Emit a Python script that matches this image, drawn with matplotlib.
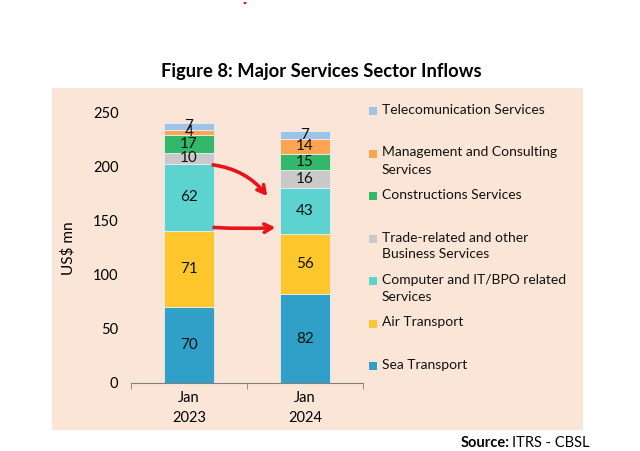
import matplotlib
matplotlib.use('Agg')
import matplotlib.pyplot as plt
import numpy as np
from matplotlib.patches import Rectangle, Circle

plt.rcParams['font.family'] = ['Lato', 'DejaVu Sans']

# Data (US$ mn), bottom to top
periods = ['Jan\n2023', 'Jan\n2024']
sectors = ['Sea Transport', 'Air Transport', 'Computer and IT/BPO related\nServices',
           'Trade-related and other\nBusiness Services', 'Constructions Services',
           'Management and Consulting\nServices', 'Telecomunication Services']
values_2023 = [70, 71, 62, 10, 17, 4, 7]
values_2024 = [82, 56, 43, 16, 15, 14, 7]
colors = ['#31A0C8', '#FFC72C', '#5CD3CE', '#C9C9C9', '#33B86A', '#FFA451', '#9DC3E6']
y_ticks = [0, 50, 100, 150, 200, 250]

W, H = 640, 451
fig = plt.figure(figsize=(W / 100, H / 100), dpi=100)
fig.patch.set_facecolor('white')

# peach chart area (its own axes, behind everything)
bg = fig.add_axes([52 / W, 1 - 430 / H, 531 / W, 342 / H], zorder=0)
bg.set_facecolor('#FBE5D6')
bg.set_xticks([])
bg.set_yticks([])
for s in bg.spines.values():
    s.set_visible(False)

ax = fig.add_axes([131 / W, 1 - 383 / H, 232 / W, 270 / H], zorder=2)
ax.set_facecolor('none')

data = np.array([values_2023, values_2024])
x = np.arange(len(periods))
bottoms = np.zeros(len(periods))
for i, name in enumerate(sectors):
    vals = data[:, i]
    ax.bar(x, vals, 0.43, bottom=bottoms, color=colors[i], edgecolor='#E8EEF4',
           linewidth=0.6, zorder=2)
    for xi, v, b in zip(x, vals, bottoms):
        ax.text(xi, b + v / 2, str(v), ha='center', va='center', fontsize=11,
                color='#111111', zorder=3)
    bottoms += vals

ax.set_xlim(-0.5, 1.5)
ax.set_ylim(0, 250)
ax.set_yticks(y_ticks)
ax.tick_params(axis='y', length=0, labelsize=10.5, pad=9)
ax.set_xticks(x)
ax.set_xticklabels(periods, fontsize=10.5, linespacing=1.5)
ax.tick_params(axis='x', length=0, pad=6)
ax.set_xticks([-0.5, 0.5, 1.5], minor=True)
ax.tick_params(axis='x', which='minor', length=4, direction='out', color='#7F7F7F')
for s in ['top', 'right', 'left']:
    ax.spines[s].set_visible(False)
ax.spines['bottom'].set_color('#7F7F7F')
ax.set_ylabel('US$ mn', fontsize=11)
ax.yaxis.set_label_coords(-0.24, 0.5)

# hand-drawn red arrows from 2023 to 2024
cum23 = np.cumsum(values_2023)
cum24 = np.cumsum(values_2024)
arrow_style = '->,head_length=0.55,head_width=0.3'
ax.annotate('', xy=(0.675, cum24[2] - 8), xytext=(0.207, cum23[2] - 1),
            arrowprops=dict(arrowstyle=arrow_style, color='#E8141B', lw=2.6,
                            shrinkA=0, shrinkB=0,
                            connectionstyle='arc3,rad=-0.2'), zorder=4)
ax.annotate('', xy=(0.745, cum23[1] + 3), xytext=(0.215, cum23[1] + 3),
            arrowprops=dict(arrowstyle=arrow_style, color='#E8141B', lw=2.6,
                            shrinkA=0, shrinkB=0,
                            connectionstyle='arc3,rad=0.03'), zorder=4)

# legend laid out like the Excel one
leg_top = 111
leg_step = 42.5
for k, name in enumerate(reversed(sectors)):
    yc = leg_top + k * leg_step
    col = list(reversed(colors))[k]
    fig.patches.append(Rectangle((369 / W, 1 - (yc + 4) / H), 8 / W, 8 / H,
                                 transform=fig.transFigure, facecolor=col,
                                 edgecolor='none', zorder=3))
    fig.text(382 / W, 1 - (yc - 7) / H, name, ha='left', va='top', fontsize=10,
             color='#111111', linespacing=1.5, zorder=3)

fig.text(321 / W, 1 - 72 / H, 'Figure 8: Major Services Sector Inflows', ha='center',
         va='center', fontsize=13.2, fontweight='bold')

# stray red dot at the top of the page
fig.patches.append(Circle((245 / W, 1 - 3 / H), 1.6 / W, transform=fig.transFigure,
                          facecolor='#E8141B', edgecolor='none'))

# source line: regular part right-aligned, bold prefix placed just left of it
src = fig.text(590 / W, 1 - 443 / H, 'ITRS - CBSL', ha='right', va='center', fontsize=10.5)
fig.canvas.draw()
bb = src.get_window_extent()
fig.text((bb.x0 - 3) / W, 1 - 443 / H, 'Source:', ha='right', va='center', fontsize=10.5,
         fontweight='bold')

fig.savefig('out.png', dpi=100)
